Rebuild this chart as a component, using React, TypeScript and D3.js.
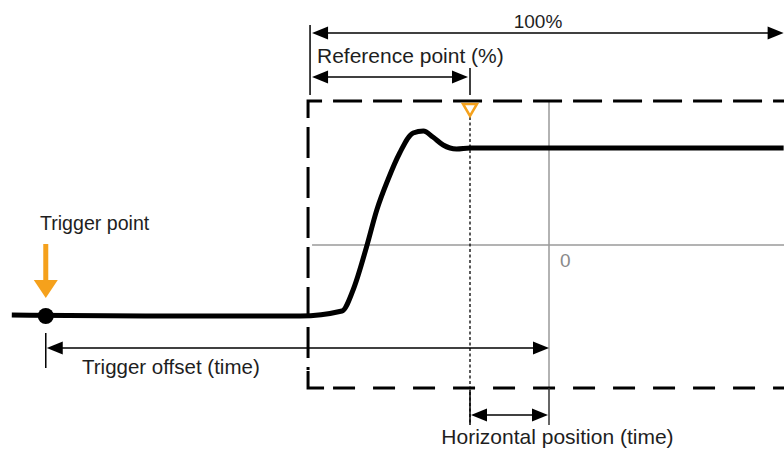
import React from "react";
import * as d3 from "d3";

// Waveform (time in divisions, 0 = horizontal position reference; amplitude in units)
const waveTime = [-6.8, -5.11, -3.15, -2.62, -2.48, -2.31, -2.18, -2.04, -1.89, -1.72, -1.59, -1.47, -1.34, -1.17, -1.0, 2.97];
const waveAmp = [-0.70, -0.71, -0.71, -0.66, -0.45, -0.02, 0.35, 0.65, 0.92, 1.12, 1.14, 1.08, 1.0, 0.96, 0.97, 0.97];

// Key times
const triggerTime = [-6.37];
const windowStart = [-3.05];
const referenceTime = [-1.0];
const zeroTime = [0];
const windowEnd = [2.97];
const boxAmp = [1.44, -1.43];

// Labels
const labels = ["100%", "Reference point (%)", "Trigger point", "Trigger offset (time)", "Horizontal position (time)", "0"];

const W = 784;
const H = 452;
const ORANGE = "#F5A11C";
const GRID = "#9a9a9a";
const FONT = "'Liberation Sans', Arial, sans-serif";
const TXT = "#1e1e1e";

const x = d3.scaleLinear().domain([0, 1]).range([549, 628]);
const y = d3.scaleLinear().domain([0, 1]).range([245, 145]);

function Arrow({ x1, x2, yy, left = true, right = true }: { x1: number; x2: number; yy: number; left?: boolean; right?: boolean }) {
  const L = 16, hw = 6.5;
  return (
    <g>
      <line x1={x1 + (left ? 8 : 0)} x2={x2 - (right ? 8 : 0)} y1={yy} y2={yy} stroke="#000" strokeWidth={1.5} />
      {left && <path d={`M${x1},${yy} L${x1 + L},${yy - hw} L${x1 + L},${yy + hw} Z`} fill="#000" />}
      {right && <path d={`M${x2},${yy} L${x2 - L},${yy - hw} L${x2 - L},${yy + hw} Z`} fill="#000" />}
    </g>
  );
}

export default function App() {
  const line = d3
    .line<number>()
    .x((_, i) => x(waveTime[i]))
    .y((d) => y(d))
    .curve(d3.curveMonotoneX);

  const xt = x(triggerTime[0]);
  const xs = x(windowStart[0]);
  const xr = x(referenceTime[0]);
  const x0 = x(zeroTime[0]);
  const xe = x(windowEnd[0]);
  const yTop = y(boxAmp[0]);
  const yBot = y(boxAmp[1]);
  const yLow = y(waveAmp[1]);

  return (
    <div style={{ position: "fixed", left: 0, top: 0 }}>
      <svg width={W} height={H} style={{ display: "block", background: "#fff" }}>
        {/* grid */}
        <line x1={xs + 4} x2={W} y1={y(0)} y2={y(0)} stroke={GRID} strokeWidth={1.5} />
        <line x1={x0} x2={x0} y1={yTop} y2={yBot} stroke={GRID} strokeWidth={1.5} />
        <text x={x0 + 11} y={y(0) + 22} fontFamily={FONT} fontSize={19} fill="#8a8a8a">{labels[5]}</text>

        {/* dashed window */}
        <g fill="none" stroke="#000" strokeWidth={3}>
          <path d={`M${xs},${yTop + 17} L${xs},${yTop} L${xs + 14},${yTop}`} />
          <path d={`M${xs},${yBot - 17} L${xs},${yBot} L${xs + 16},${yBot}`} />
          <line x1={xs} x2={xs} y1={yTop + 26} y2={yBot - 18} strokeDasharray="31 9" />
          <line x1={xs + 25} x2={W + 20} y1={yTop} y2={yTop} strokeDasharray="29 11" />
          <line x1={xs + 25} x2={W + 20} y1={yBot} y2={yBot} strokeDasharray="22 18" />
        </g>

        {/* reference dotted line */}
        <line x1={xr} x2={xr} y1={yTop + 16} y2={425} stroke="#000" strokeWidth={1.3} strokeDasharray="3 2.5" />
        <path d={`M${xr - 7},${yTop + 3} L${xr + 7},${yTop + 3} L${xr},${yTop + 15} Z`} fill="#fff" stroke={ORANGE} strokeWidth={2.5} strokeLinejoin="miter" />

        {/* waveform */}
        <path d={line(waveAmp) || ""} fill="none" stroke="#000" strokeWidth={5} strokeLinejoin="round" />
        <circle cx={xt} cy={yLow} r={8} fill="#000" />

        {/* trigger point orange arrow */}
        <rect x={xt - 2.5} y={244} width={5} height={38} fill={ORANGE} />
        <path d={`M${xt - 12},${280} L${xt + 12},${280} L${xt},${298} Z`} fill={ORANGE} />
        <text x={40} y={230} fontFamily={FONT} fontSize={19.6} fill={TXT}>{labels[2]}</text>

        {/* top: 100% */}
        <line x1={xs + 2} x2={xs + 2} y1={25} y2={95} stroke="#000" strokeWidth={1.5} />
        <Arrow x1={xs + 4} x2={xe + 0} yy={33} />
        <text x={538} y={28} textAnchor="middle" fontFamily={FONT} fontSize={19} fill={TXT}>{labels[0]}</text>

        {/* reference point */}
        <line x1={xr} x2={xr} y1={68} y2={95} stroke="#000" strokeWidth={1.5} />
        <Arrow x1={xs + 4} x2={xr - 2} yy={77} />
        <text x={317} y={63} fontFamily={FONT} fontSize={21} fill={TXT}>{labels[1]}</text>

        {/* trigger offset */}
        <line x1={xt} x2={xt} y1={333} y2={368} stroke="#000" strokeWidth={1.5} />
        <Arrow x1={xt + 1} x2={x0} yy={348} />
        <text x={82} y={374} fontFamily={FONT} fontSize={20.5} fill={TXT}>{labels[3]}</text>

        {/* horizontal position */}
        <line x1={xr} x2={xr} y1={390} y2={425} stroke="#000" strokeWidth={1.5} />
        <line x1={x0} x2={x0} y1={388} y2={425} stroke="#333" strokeWidth={1.5} />
        <Arrow x1={xr + 1} x2={x0 - 1} yy={415} />
        <text x={557.5} y={444} textAnchor="middle" fontFamily={FONT} fontSize={21} fill={TXT}>{labels[4]}</text>
      </svg>
    </div>
  );
}
